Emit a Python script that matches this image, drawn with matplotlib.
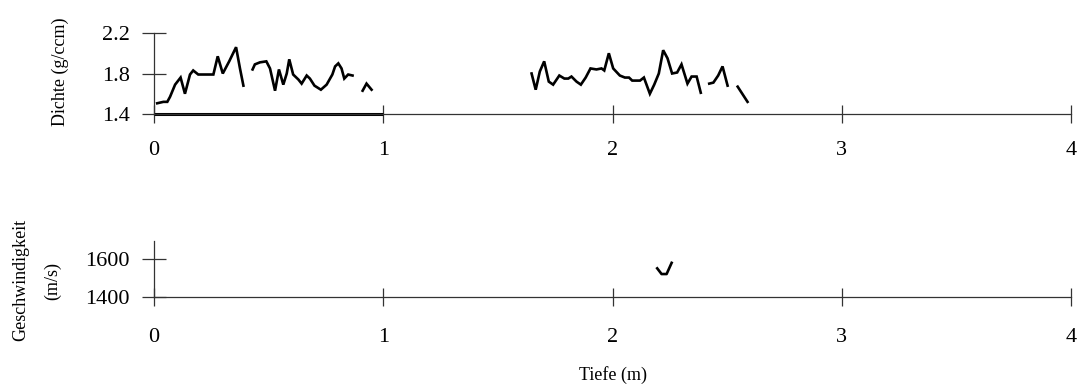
import numpy as np
import matplotlib
matplotlib.use("Agg")
import matplotlib.pyplot as plt

nan = np.nan
# Density profile (depth in m, density in g/ccm); NaN marks gaps
depth = [0.014, 0.041, 0.058, 0.070, 0.092, 0.116, 0.135, 0.157, 0.171, 0.193, 0.215, 0.259,
         0.278, 0.300, 0.328, 0.358, 0.375, 0.390, nan,
         0.430, 0.440, 0.462, 0.490, 0.506, 0.528, 0.545, 0.554, 0.564, 0.579, 0.590, 0.607,
         0.630, 0.644, 0.666, 0.680, 0.700, 0.728, 0.753, 0.778, 0.790, 0.804, 0.818, 0.830,
         0.847, 0.866, nan,
         0.910, 0.927, 0.949, nan,
         1.647, 1.665, 1.683, 1.702, 1.722, 1.741, 1.768, 1.790, 1.807, 1.821, 1.843, 1.862,
         1.883, 1.904, 1.930, 1.952, 1.964, 1.984, 2.003, 2.032, 2.054, 2.072, 2.086, 2.120,
         2.137, 2.163, 2.182, 2.202, 2.221, 2.240, 2.260, 2.282, 2.301, 2.327, 2.345, 2.367,
         2.385, nan,
         2.422, 2.440, 2.461, 2.480, 2.502, nan,
         2.546, 2.589]
density = [1.506, 1.52, 1.52, 1.57, 1.69, 1.76, 1.60, 1.79, 1.83, 1.79, 1.79, 1.79,
           1.97, 1.80, 1.92, 2.06, 1.85, 1.68, nan,
           1.84, 1.89, 1.91, 1.92, 1.85, 1.63, 1.84, 1.77, 1.69, 1.80, 1.94, 1.79,
           1.74, 1.70, 1.78, 1.75, 1.68, 1.64, 1.69, 1.79, 1.87, 1.90, 1.85, 1.75,
           1.79, 1.78, nan,
           1.63, 1.70, 1.64, nan,
           1.80, 1.64, 1.82, 1.92, 1.72, 1.69, 1.78, 1.75, 1.75, 1.77, 1.72, 1.69,
           1.76, 1.85, 1.84, 1.85, 1.83, 2.00, 1.85, 1.78, 1.76, 1.76, 1.73, 1.73,
           1.76, 1.60, 1.69, 1.80, 2.03, 1.95, 1.80, 1.81, 1.89, 1.70, 1.77, 1.77,
           1.61, nan,
           1.70, 1.71, 1.78, 1.87, 1.68, nan,
           1.67, 1.52]

# Velocity profile (depth in m, velocity in m/s)
vel_depth = [2.195, 2.214, 2.236, 2.258]
velocity = [1551, 1521, 1521, 1580]

x_ticks = [0, 1, 2, 3, 4]
dens_ticks = [1.4, 1.8, 2.2]
vel_ticks = [1400, 1600]

plt.rcParams['font.family'] = ['Liberation Serif', 'DejaVu Serif']

W, H = 1083, 387
fig = plt.figure(figsize=(W / 100, H / 100), dpi=100)

def ax_rect(x0, x1, ytop, ybot):
    return [x0 / W, 1 - ybot / H, (x1 - x0) / W, (ybot - ytop) / H]

axcol = '#333333'

def style(ax, xpad):
    for s in ['top', 'right']:
        ax.spines[s].set_visible(False)
    for s in ['left', 'bottom']:
        ax.spines[s].set_color(axcol)
        ax.spines[s].set_linewidth(0.9)
    ax.tick_params(axis='x', direction='inout', length=13, width=0.9, color=axcol,
                   labelsize=16, pad=xpad)
    ax.tick_params(axis='y', direction='inout', length=17, width=0.9, color=axcol,
                   labelsize=16, pad=9)
    ax.set_xlim(x_ticks[0], x_ticks[-1])
    ax.set_xticks(x_ticks)
    ax.set_xticklabels([str(t) for t in x_ticks])

# Top: density
ax1 = fig.add_axes(ax_rect(154, 1071, 33, 114))
style(ax1, 13)
ax1.plot(depth, density, color='black', lw=1.9, solid_joinstyle='miter')
ax1.set_ylim(dens_ticks[0], dens_ticks[-1])
ax1.set_yticks(dens_ticks)
ax1.set_yticklabels([f"{t:.1f}" for t in dens_ticks])
ax1.plot([x_ticks[0], x_ticks[1]], [dens_ticks[0], dens_ticks[0]], color='black', lw=2.2,
         clip_on=False, solid_capstyle='butt')

# Bottom: velocity
ax2 = fig.add_axes(ax_rect(154, 1071, 241, 297))
style(ax2, 16)
ax2.plot(vel_depth, velocity, color='black', lw=1.9)
ax2.set_ylim(1400, 1695)
ax2.set_yticks(vel_ticks)
ax2.set_yticklabels([str(t) for t in vel_ticks])

fig.text(60 / W, 1 - 72 / H, "Dichte (g/ccm)", rotation=90, ha='center', va='center', fontsize=13)
fig.text(21 / W, 1 - 280 / H, "Geschwindigkeit", rotation=90, ha='center', va='center', fontsize=13)
fig.text(53 / W, 1 - 281 / H, "(m/s)", rotation=90, ha='center', va='center', fontsize=13)
fig.text(613 / W, 1 - 375 / H, "Tiefe (m)", ha='center', va='center', fontsize=13)

fig.savefig("out.png", dpi=100)
